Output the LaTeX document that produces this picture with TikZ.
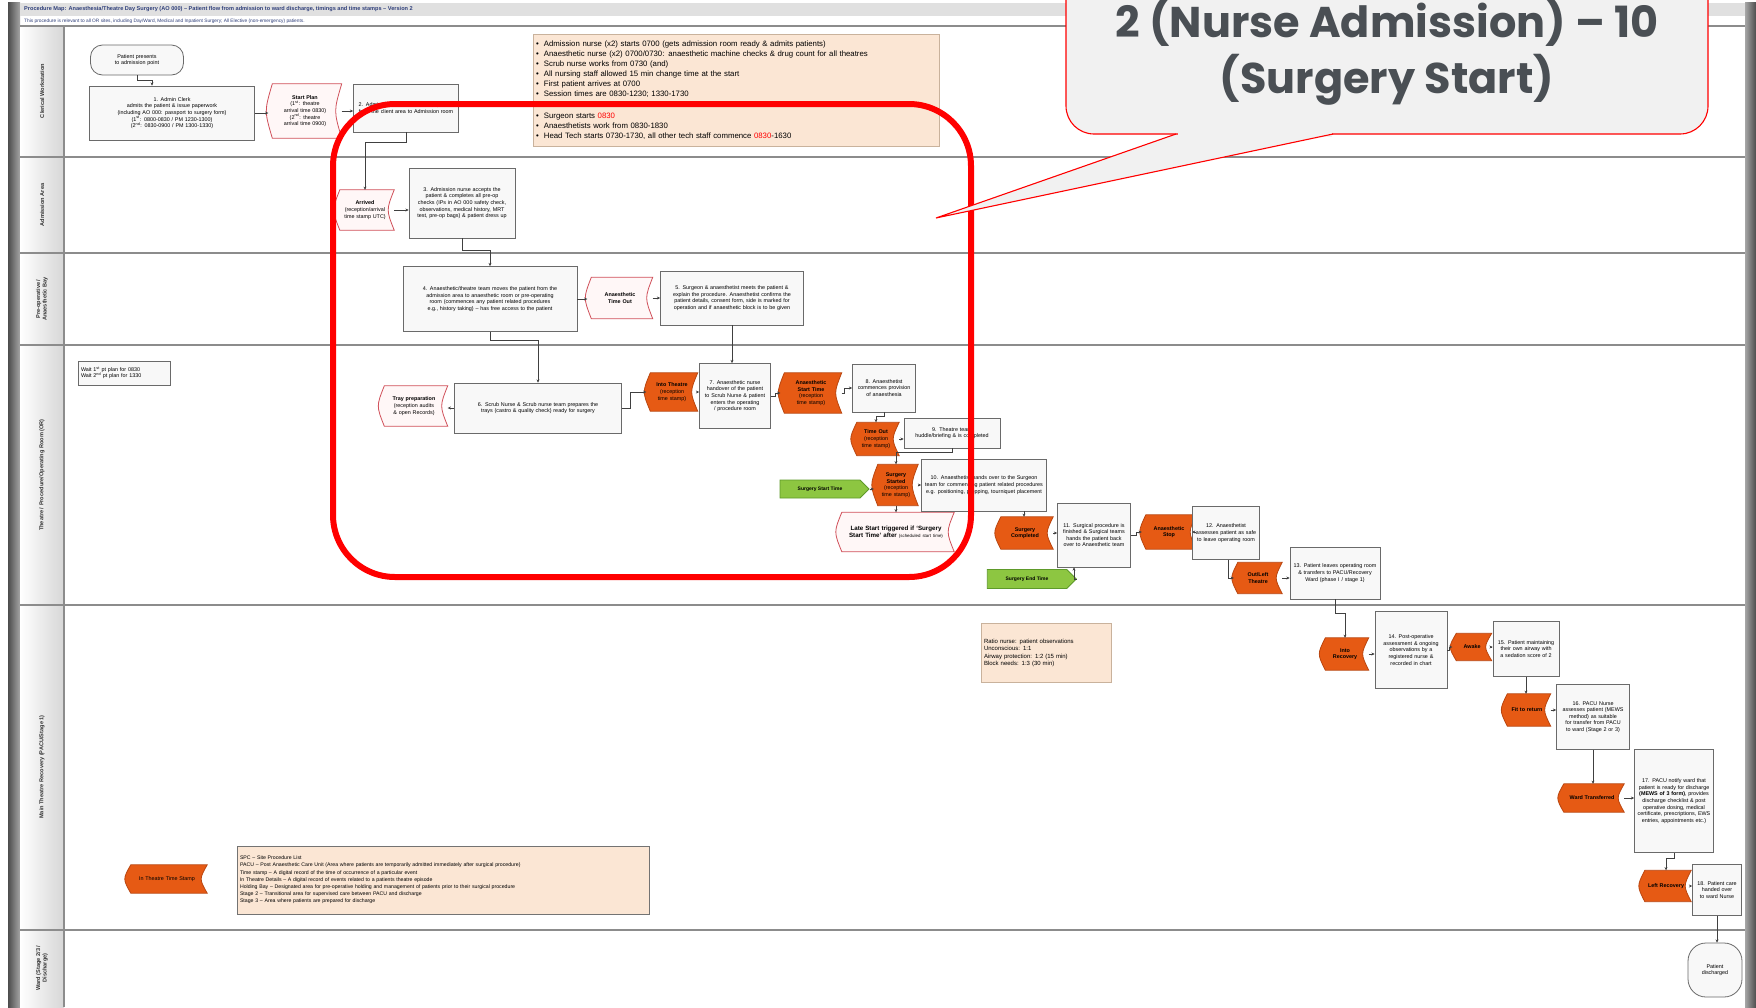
\documentclass[tikz,border=0pt]{standalone}
\usepackage{fontspec}
\setmainfont{Liberation Sans}
\newfontfamily\headfont{Poppins}
\usetikzlibrary{shapes.symbols,arrows.meta}
\pgfdeclarelayer{background}
\pgfsetlayers{background,main}
\hyphenpenalty=10000
\exhyphenpenalty=10000

\definecolor{orangefill}{HTML}{E65A14}
\definecolor{orangeline}{HTML}{B94610}
\definecolor{tagline}{HTML}{D0505A}
\definecolor{tagfill}{HTML}{FFF7F7}
\definecolor{peach}{HTML}{FBE6D4}
\definecolor{peachline}{HTML}{C9B29C}
\definecolor{greenfill}{HTML}{8DC641}
\definecolor{greenline}{HTML}{5E9A2A}
\definecolor{boxline}{HTML}{6A6A6A}
\definecolor{boxfill}{HTML}{F8F8F8}
\definecolor{laneline}{HTML}{8C8C8C}
\definecolor{callfill}{HTML}{F1F1F1}
\definecolor{calltext}{HTML}{4A4F54}
\definecolor{titleblue}{HTML}{2F3F7A}

% stored-data outline behind a tag node: convex left side, concave right side
\newcommand\tagshape[2]{%
  \begin{pgfonlayer}{background}
  \draw[#2] ([xshift=4pt]#1.north west) -- (#1.north east)
    .. controls ([xshift=-8pt]#1.east) .. (#1.south east)
    -- ([xshift=4pt]#1.south west)
    .. controls ([xshift=-4pt]#1.west) .. cycle;
  \end{pgfonlayer}}

\tikzset{
  small/.style={font=\fontsize{5.4}{6.6}\selectfont},
  proc/.style={small, draw=boxline, fill=boxfill, line width=0.8pt, align=center,
     inner sep=1.5pt, minimum width=#1, text width=#1-6pt},
  term/.style={small, draw=boxline, fill=boxfill, line width=0.8pt, align=center,
     rounded corners=12pt, minimum width=#1, text width=#1-12pt},
  tagtxt/.style={small, align=center, inner sep=1pt, minimum width=#1, text width=#1-12pt},
  redtag/.style={draw=tagline, fill=tagfill, line width=0.8pt},
  orangetag/.style={draw=orangeline, fill=orangefill, line width=0.8pt},
  note/.style={small, draw=peachline, fill=peach, line width=0.8pt, align=left,
     inner sep=3pt, text width=#1},
  greenarrow/.style={shape=signal, signal to=east, draw=greenline, fill=greenfill,
     line width=0.8pt, font=\fontsize{5}{6}\selectfont\bfseries, inner sep=1pt},
  conn/.style={draw=black!75, line width=0.7pt, -{Stealth[length=3.2pt,width=3pt]}},
  lane/.style={draw=laneline, line width=1.6pt},
  lanelabel/.style={rotate=90, align=center, font=\fontsize{5.6}{6.6}\selectfont\bfseries, text=black!80}
}

\begin{document}
\begin{tikzpicture}[x=1pt,y=-1pt]
\useasboundingbox (0,0) rectangle (1756,1007);
\clip (0,0) rectangle (1756,1007);

% page, frame and title band
\begin{pgfonlayer}{background}
\fill[white] (0,0) rectangle (1756,1007);
\end{pgfonlayer}
\fill[left color=black!70, right color=black!35] (8,2) rectangle (20,1007);
\fill[left color=black!35, right color=black!70] (1745,2) rectangle (1756,1007);
\fill[black!12] (20,3) rectangle (1745,16);
\node[anchor=west, font=\fontsize{5.6}{6}\selectfont\bfseries, text=titleblue, inner sep=0pt] (title) at (24,9.5)
  {Procedure Map: Anaesthesia/Theatre Day Surgery (AO 000) – Patient flow from admission to ward discharge, timings and time stamps – Version 2};
\node[anchor=west, font=\fontsize{4.8}{5}\selectfont, text=titleblue, inner sep=0pt] (subtitle) at (24,21)
  {This procedure is relevant to all OR sites, including Day/Ward, Medical and Inpatient Surgery; All Elective (non-emergency) patients.};

% swimlanes
\fill[left color=white, right color=black!16] (20,26) rectangle (64,1007);
\foreach \y in {26,157,253,345,605,930} \draw[lane] (20,\y) -- (1745,\y);
\draw[lane] (64,26) -- (64,1007);
\node[lanelabel] (l1) at (42,91) {Clerical Workstation};
\node[lanelabel] (l2) at (42,205) {Admission Area};
\node[lanelabel] (l3) at (42,299) {Pre-operative /\\Anaesthetic Bay};
\node[lanelabel] (l4) at (42,475) {Theatre / Procedure/Operating Room (OR)};
\node[lanelabel] (l5) at (42,767) {Main Theatre Recovery (PACU/Stage 1)};
\node[lanelabel] (l6) at (42,968) {Ward (Stage 2/3 /\\Discharge)};

% ---- clerical workstation
\node[term=93pt, minimum height=30pt] (term1) at (137,60) {Patient presents to admission point};
\node[proc=165pt, minimum height=54pt] (b1) at (172,113)
  {1. Admin Clerk\\admits the patient \& issue paperwork (including AO 000: passport to surgery form)\\(1\textsuperscript{st}: 0800-0830 / PM 1230-1300)\\(2\textsuperscript{nd}: 0830-0900 / PM 1300-1330)};
\node[tagtxt=73pt, minimum height=54pt] (tStart) at (305,111)
  {\textbf{Start Plan}\\(1\textsuperscript{st}: theatre arrival time 0830)\\(2\textsuperscript{nd}: theatre arrival time 0900)};
\tagshape{tStart}{redtag}
\node[proc=105pt, minimum height=48pt] (b2) at (406,108)
  {2. Admission nurse collects the patient from the client area to Admission room};
\node[note=400pt, minimum height=112pt, font=\fontsize{7.8}{10}\selectfont] (note1) at (736,90) {%
\textbullet\ \ Admission nurse (x2) starts 0700 (gets admission room ready \& admits patients)\\
\textbullet\ \ Anaesthetic nurse (x2) 0700/0730: anaesthetic machine checks \& drug count for all theatres\\
\textbullet\ \ Scrub nurse works from 0730 (and)\\
\textbullet\ \ All nursing staff allowed 15 min change time at the start\\
\textbullet\ \ First patient arrives at 0700\\
\textbullet\ \ Session times are 0830-1230; 1330-1730\\[12pt]
\textbullet\ \ Surgeon starts \textcolor{red}{0830}\\
\textbullet\ \ Anaesthetists work from 0830-1830\\
\textbullet\ \ Head Tech starts 0730-1730, all other tech staff commence \textcolor{red}{0830}-1630};

% ---- admission area
\node[tagtxt=58pt, minimum height=40pt] (tArr) at (365,210)
  {\textbf{Arrived}\\(reception/arrival time stamp UTC)};
\tagshape{tArr}{redtag}
\node[proc=106pt, minimum height=70pt] (b3) at (462,203)
  {3. Admission nurse accepts the patient \& completes all pre-op checks (IPs in AO 000 safety check, observations, medical history, MRT test, pre-op bags) \& patient dress up};

% ---- pre-operative / anaesthetic bay
\node[proc=174pt, minimum height=65pt] (b4) at (490,299)
  {4. Anaesthetic/theatre team moves the patient from the admission area to anaesthetic room or pre-operating room (commences any patient related procedures e.g., history taking) – has free access to the patient};
\node[tagtxt=65pt, minimum height=41pt] (tATO) at (620,298) {\textbf{Anaesthetic Time Out}};
\tagshape{tATO}{redtag}
\node[proc=143pt, minimum height=54pt] (b5) at (732,298)
  {5. Surgeon \& anaesthetist meets the patient \& explain the procedure. Anaesthetist confirms the patient details, consent form, side is marked for operation and if anaesthetic block is to be given};

% ---- theatre / operating room
\node[proc=92pt, minimum height=24pt, align=left] (wait) at (124,373)
  {Wait 1\textsuperscript{st} pt plan for 0830\\Wait 2\textsuperscript{nd} pt plan for 1330};
\node[tagtxt=67pt, minimum height=40pt] (tTray) at (414,406)
  {\textbf{Tray preparation}\\(reception audits \& open Records)};
\tagshape{tTray}{redtag}
\node[proc=167pt, minimum height=50pt] (b6) at (538,408)
  {6. Scrub Nurse \& Scrub nurse team prepares the trays (castro \& quality check) ready for surgery};
\node[tagtxt=51pt, minimum height=38pt] (tInto) at (672,392) {\textbf{Into Theatre}\\(reception time stamp)};
\tagshape{tInto}{orangetag}
\node[proc=71pt, minimum height=65pt] (b7) at (735,396)
  {7. Anaesthetic nurse handover of the patient to Scrub Nurse \& patient enters the operating / procedure room};
\node[tagtxt=61pt, minimum height=40pt] (tAST) at (811,393) {\textbf{Anaesthetic Start Time}\\(reception time stamp)};
\tagshape{tAST}{orangetag}
\node[proc=63pt, minimum height=48pt] (b8) at (884,388) {8. Anaesthetist commences provision of anaesthesia};
\node[tagtxt=46pt, minimum height=33pt] (tTO) at (876,439) {\textbf{Time Out}\\(reception time stamp)};
\tagshape{tTO}{orangetag}
\node[proc=96pt, minimum height=30pt] (b9) at (952,433) {9. Theatre team huddle/briefing \& is completed};
\node[tagtxt=44pt, minimum height=41pt] (tSS) at (896,485) {\textbf{Surgery Started}\\(reception time stamp)};
\tagshape{tSS}{orangetag}
\node[proc=125pt, minimum height=52pt] (b10) at (984,485)
  {10. Anaesthetist hands over to the Surgeon team for commencing patient related procedures e.g. positioning, prepping, tourniquet placement};
\node[greenarrow, minimum width=89pt, minimum height=18pt] (green1) at (820,489) {Surgery Start Time};
\node[tagtxt=116pt, minimum height=39pt, font=\fontsize{6.2}{7.2}\selectfont] (late) at (896,532)
  {\textbf{Late Start triggered if `Surgery Start Time' after} {\fontsize{4.4}{5}\selectfont(scheduled start time)}};
\tagshape{late}{redtag}
\node[tagtxt=56pt, minimum height=32pt] (tSC) at (1025,533) {\textbf{Surgery Completed}};
\tagshape{tSC}{orangetag}
\node[proc=73pt, minimum height=64pt] (b11) at (1094,535)
  {11. Surgical procedure is finished \& Surgical teams hands the patient back over to Anaesthetic team};
\node[greenarrow, minimum width=89pt, minimum height=19pt] (green2) at (1027,579) {Surgery End Time};
\node[tagtxt=54pt, minimum height=34pt] (tAR) at (1169,532) {\textbf{Anaesthetic Stop}};
\tagshape{tAR}{orangetag}
\node[proc=67pt, minimum height=53pt] (b12) at (1226,533)
  {12. Anaesthetist assesses patient as safe to leave operating room};
\node[tagtxt=48pt, minimum height=31pt] (tOut) at (1258,578) {\textbf{Out/Left Theatre}};
\tagshape{tOut}{orangetag}
\node[proc=90pt, minimum height=52pt] (b13) at (1335,573)
  {13. Patient leaves operating room \& transfers to PACU/Recovery Ward (phase I / stage 1)};

% ---- recovery (PACU / stage 1)
\node[note=124pt, minimum height=59pt, font=\fontsize{6}{7.6}\selectfont] (note2) at (1046,653)
  {Ratio nurse: patient observations\\Unconscious: 1:1\\Airway protection: 1:2 (15 min)\\Block needs: 1:3 (30 min)};
\node[tagtxt=47pt, minimum height=32pt] (tIR) at (1345,654) {\textbf{Into Recovery}};
\tagshape{tIR}{orangetag}
\node[proc=72pt, minimum height=77pt] (b14) at (1411,650)
  {14. Post-operative assessment \& ongoing observations by a registered nurse \& recorded in chart};
\node[tagtxt=39pt, minimum height=27pt] (tAw) at (1472,647) {\textbf{Awake}};
\tagshape{tAw}{orangetag}
\node[proc=66pt, minimum height=55pt] (b15) at (1526,649)
  {15. Patient maintaining their own airway with a sedation score of 2};
\node[tagtxt=47pt, minimum height=32pt] (tFit) at (1527,710) {\textbf{Fit to return}};
\tagshape{tFit}{orangetag}
\node[proc=73pt, minimum height=65pt] (b16) at (1593,717)
  {16. PACU Nurse assesses patient (MEWS method) as suitable for transfer from PACU to ward (Stage 2 or 3)};
\node[tagtxt=64pt, minimum height=28pt] (tWT) at (1592,798) {\textbf{Ward Transferred}};
\tagshape{tWT}{orangetag}
\node[proc=79pt, minimum height=103pt] (b17) at (1674,801)
  {17. PACU notify ward that patient is ready for discharge \textbf{(MEWS of 3 form)}, provides discharge checklist \& post operative dosing, medical certificate, prescriptions, EWS entries, appointments etc.)};
\node[tagtxt=50pt, minimum height=31pt] (tLR) at (1666,886) {\textbf{Left Recovery}};
\tagshape{tLR}{orangetag}
\node[proc=49pt, minimum height=51pt] (b18) at (1717,890)
  {18. Patient care handed over to ward Nurse};
\node[tagtxt=80pt, minimum height=28pt] (legTag) at (167,879) {In Theatre Time Stamp};
\tagshape{legTag}{orangetag}
\node[note=406pt, minimum height=68pt, draw=black!55, font=\fontsize{5.2}{7.2}\selectfont] (legend) at (443,880) {%
SPC – Site Procedure List\\
PACU – Post Anaesthetic Care Unit (Area where patients are temporarily admitted immediately after surgical procedure)\\
Time stamp – A digital record of the time of occurrence of a particular event\\
In Theatre Details – A digital record of events related to a patients theatre episode\\
Holding Bay – Designated area for pre-operative holding and management of patients prior to their surgical procedure\\
Stage 2 – Transitional area for supervised care between PACU and discharge\\
Stage 3 – Area where patients are prepared for discharge};

% ---- ward / discharge
\node[term=54pt, minimum height=54pt, rounded corners=18pt] (disch) at (1715,970) {Patient discharged};

% ---- connectors
\draw[conn] (term1.south) -- ++(0,5) -| ([xshift=-20pt]b1.north);
\draw[conn] (b1.east) -- (b1.east -| tStart.west);
\draw[conn] (tStart.east) -- (tStart.east -| b2.west);
\draw[conn] (b2.south) -- ++(0,10) -| (tArr.north);
\draw[conn] (tArr.east) -- (tArr.east -| b3.west);
\draw[conn] (b3.south) -- ++(0,12) -| (b4.north);
\draw[conn] (b4.east) -- (b4.east -| tATO.west);
\draw[conn] (tATO.east) -- (tATO.east -| b5.west);
\draw[conn] (b4.south) -- ++(0,8) -| (b6.north);
\draw[conn] (b5.south) -- (b5.south |- b7.north);
\draw[conn] (b6.west) -- (b6.west -| tTray.east);
\draw[conn] (b6.east) -- ++(8,0) |- (tInto.west);
\draw[conn] (tInto.east) -- (tInto.east -| b7.west);
\draw[conn] (b7.east) -- ++(4,0) |- (tAST.west);
\draw[conn] (tAST.east) -- ++(3,0) |- (b8.west);
\draw[conn] (b8.south) -- ++(0,4) -| (tTO.north);
\draw[conn] (tTO.east) -- (tTO.east -| b9.west);
\draw[conn] (b9.south) -- ++(0,4) -| (tSS.north);
\draw[conn] (tSS.east) -- (tSS.east -| b10.west);
\draw[conn] (green1.east) -- (green1.east -| tSS.west);
\draw[conn] (tSS.south) -- (tSS.south |- late.north);
\draw[conn] ([xshift=40pt]b10.south) -- ([xshift=40pt]b10.south |- tSC.north);
\draw[conn] (tSC.east) -- (tSC.east -| b11.west);
\draw[conn] (green2.east) -| ([xshift=-20pt]b11.south);
\draw[conn] (b11.east) -- ++(5,0) |- (tAR.west);
\draw[conn] (tAR.east) -- (tAR.east -| b12.west);
\draw[conn] ([xshift=2pt]b12.south) |- (tOut.west);
\draw[conn] (tOut.east) -- (tOut.east -| b13.west);
\draw[conn] (b13.south) -- ++(0,14) -| (tIR.north);
\draw[conn] (tIR.east) -- (tIR.east -| b14.west);
\draw[conn] (b14.east) -- ++(2,0) |- (tAw.west);
\draw[conn] (tAw.east) -- (tAw.east -| b15.west);
\draw[conn] (b15.south) -- (b15.south |- tFit.north);
\draw[conn] (tFit.east) -- (tFit.east -| b16.west);
\draw[conn] (b16.south) -- (b16.south |- tWT.north);
\draw[conn] (tWT.east) -- (tWT.east -| b17.west);
\draw[conn] (b17.south) -- ++(0,5) -| (tLR.north);
\draw[conn] (tLR.east) -- (tLR.east -| b18.west);
\draw[conn] (b18.south) -- (b18.south |- disch.north);

% ---- highlighted stretch of the process
\draw[red, line width=6pt, rounded corners=62pt] (333,104) rectangle (971,577);

% ---- callout
\fill[callfill] (936,218) -- (1176,134) -- (1333,134) -- cycle;
\draw[red, line width=1.1pt, fill=callfill, rounded corners=28pt] (1066,-40) rectangle (1708,134);
\fill[callfill] (1177.5,131) rectangle (1331.5,137);
\draw[red, line width=1.1pt] (1176,134) -- (936,218) -- (1333,134);
\node[font=\headfont\bfseries\fontsize{43}{56}\selectfont, text=calltext, align=center] (calltxt) at (1387,52)
  {2 (Nurse Admission) – 10\\(Surgery Start)};
\end{tikzpicture}
\end{document}
